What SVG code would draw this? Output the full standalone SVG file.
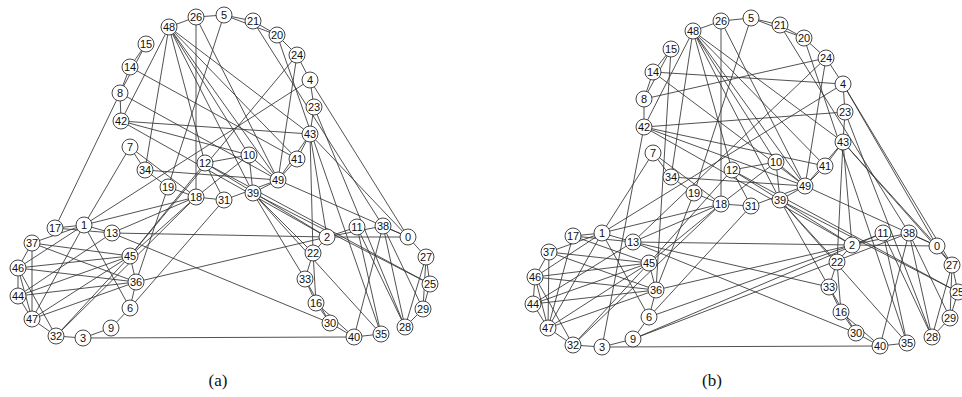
<svg xmlns="http://www.w3.org/2000/svg" width="962" height="397" viewBox="0 0 962 397">
<style>
.e line{stroke:#333;stroke-width:0.85;fill:none}
.n circle{fill:#fff;stroke:#333;stroke-width:0.9}
.n text{font-family:"Liberation Sans",Arial,sans-serif;font-size:11px;fill:#111;text-anchor:middle}
.cap{font-family:"Liberation Serif","Times New Roman",serif;font-size:17px;fill:#111;text-anchor:middle}
</style>
<rect width="962" height="397" fill="#fff"/>
<g id="edges-a" class="e">
<line x1="169" y1="27" x2="196" y2="17"/><line x1="196" y1="17" x2="224" y2="15"/><line x1="224" y1="15" x2="253" y2="21"/><line x1="253" y1="21" x2="277" y2="35"/><line x1="224" y1="15" x2="277" y2="35"/><line x1="277" y1="35" x2="297" y2="55"/><line x1="297" y1="55" x2="310" y2="80"/><line x1="310" y1="80" x2="314" y2="107"/><line x1="314" y1="107" x2="310" y2="134"/><line x1="310" y1="134" x2="297" y2="159"/><line x1="297" y1="159" x2="278" y2="180"/><line x1="310" y1="134" x2="278" y2="180"/><line x1="278" y1="180" x2="253" y2="193"/><line x1="224" y1="200" x2="278" y2="180"/><line x1="224" y1="200" x2="196" y2="197"/><line x1="196" y1="197" x2="168" y2="187"/><line x1="168" y1="187" x2="145" y2="170"/><line x1="145" y1="170" x2="130" y2="147"/><line x1="130" y1="147" x2="196" y2="197"/><line x1="121" y1="121" x2="120" y2="93"/><line x1="120" y1="93" x2="130" y2="67"/><line x1="130" y1="67" x2="146" y2="44"/><line x1="146" y1="44" x2="120" y2="93"/>
<line x1="205" y1="163" x2="249" y2="155"/><line x1="249" y1="155" x2="253" y2="193"/><line x1="249" y1="155" x2="278" y2="180"/><line x1="205" y1="163" x2="327" y2="237"/><line x1="205" y1="163" x2="430" y2="284"/><line x1="205" y1="163" x2="224" y2="200"/><line x1="249" y1="155" x2="196" y2="197"/>
<line x1="169" y1="27" x2="121" y2="121"/><line x1="169" y1="27" x2="145" y2="170"/><line x1="169" y1="27" x2="205" y2="163"/><line x1="169" y1="27" x2="253" y2="193"/><line x1="169" y1="27" x2="249" y2="155"/><line x1="169" y1="27" x2="278" y2="180"/><line x1="169" y1="27" x2="297" y2="159"/><line x1="169" y1="27" x2="310" y2="134"/>
<line x1="196" y1="17" x2="196" y2="197"/><line x1="196" y1="17" x2="278" y2="180"/><line x1="224" y1="15" x2="168" y2="187"/><line x1="120" y1="93" x2="55" y2="228"/><line x1="120" y1="93" x2="278" y2="180"/><line x1="130" y1="67" x2="297" y2="159"/><line x1="121" y1="121" x2="310" y2="134"/><line x1="121" y1="121" x2="327" y2="237"/><line x1="121" y1="121" x2="249" y2="155"/><line x1="130" y1="147" x2="84" y2="225"/>
<line x1="253" y1="21" x2="383" y2="226"/><line x1="277" y1="35" x2="381" y2="334"/><line x1="297" y1="55" x2="278" y2="180"/><line x1="297" y1="55" x2="130" y2="256"/><line x1="310" y1="80" x2="84" y2="225"/><line x1="310" y1="80" x2="408" y2="237"/><line x1="314" y1="107" x2="405" y2="327"/><line x1="310" y1="134" x2="313" y2="253"/><line x1="310" y1="134" x2="327" y2="237"/><line x1="310" y1="134" x2="408" y2="237"/><line x1="278" y1="180" x2="408" y2="237"/>
<line x1="253" y1="193" x2="430" y2="284"/><line x1="253" y1="193" x2="305" y2="279"/><line x1="253" y1="193" x2="313" y2="253"/><line x1="253" y1="193" x2="381" y2="334"/><line x1="145" y1="170" x2="278" y2="180"/><line x1="136" y1="282" x2="168" y2="187"/><line x1="130" y1="256" x2="205" y2="163"/><line x1="130" y1="256" x2="196" y2="197"/><line x1="84" y1="225" x2="196" y2="197"/><line x1="112" y1="233" x2="196" y2="197"/>
<line x1="55" y1="228" x2="84" y2="225"/><line x1="55" y1="228" x2="112" y2="233"/><line x1="84" y1="225" x2="112" y2="233"/><line x1="32" y1="243" x2="130" y2="256"/><line x1="32" y1="243" x2="136" y2="282"/><line x1="32" y1="243" x2="84" y2="225"/><line x1="18" y1="268" x2="130" y2="256"/><line x1="18" y1="268" x2="136" y2="282"/><line x1="18" y1="268" x2="84" y2="225"/><line x1="18" y1="296" x2="130" y2="256"/><line x1="18" y1="296" x2="136" y2="282"/><line x1="18" y1="296" x2="112" y2="233"/><line x1="32" y1="319" x2="130" y2="256"/><line x1="32" y1="319" x2="136" y2="282"/><line x1="32" y1="319" x2="84" y2="225"/><line x1="56" y1="336" x2="130" y2="256"/><line x1="56" y1="336" x2="196" y2="197"/>
<line x1="32" y1="243" x2="32" y2="319"/><line x1="32" y1="243" x2="18" y2="268"/><line x1="18" y1="268" x2="18" y2="296"/><line x1="18" y1="268" x2="32" y2="319"/><line x1="18" y1="296" x2="32" y2="319"/><line x1="32" y1="319" x2="56" y2="336"/><line x1="18" y1="268" x2="56" y2="336"/><line x1="56" y1="336" x2="83" y2="338"/><line x1="83" y1="338" x2="111" y2="328"/><line x1="111" y1="328" x2="130" y2="308"/><line x1="130" y1="308" x2="136" y2="282"/><line x1="136" y1="282" x2="130" y2="256"/><line x1="130" y1="308" x2="84" y2="225"/><line x1="130" y1="308" x2="224" y2="200"/>
<line x1="112" y1="233" x2="327" y2="237"/><line x1="112" y1="233" x2="330" y2="323"/><line x1="136" y1="282" x2="327" y2="237"/><line x1="83" y1="338" x2="354" y2="337"/>
<line x1="327" y1="237" x2="357" y2="227"/><line x1="327" y1="237" x2="383" y2="226"/><line x1="327" y1="237" x2="408" y2="237"/><line x1="357" y1="227" x2="405" y2="327"/><line x1="357" y1="227" x2="381" y2="334"/><line x1="383" y1="226" x2="354" y2="337"/><line x1="383" y1="226" x2="405" y2="327"/><line x1="383" y1="226" x2="423" y2="309"/><line x1="383" y1="226" x2="408" y2="237"/><line x1="408" y1="237" x2="426" y2="257"/><line x1="426" y1="257" x2="430" y2="284"/><line x1="430" y1="284" x2="423" y2="309"/><line x1="426" y1="257" x2="423" y2="309"/><line x1="405" y1="327" x2="423" y2="309"/><line x1="405" y1="327" x2="426" y2="257"/>
<line x1="313" y1="253" x2="305" y2="279"/><line x1="313" y1="253" x2="316" y2="303"/><line x1="305" y1="279" x2="316" y2="303"/><line x1="305" y1="279" x2="330" y2="323"/><line x1="316" y1="303" x2="330" y2="323"/><line x1="316" y1="303" x2="354" y2="337"/><line x1="330" y1="323" x2="354" y2="337"/><line x1="354" y1="337" x2="381" y2="334"/><line x1="327" y1="237" x2="313" y2="253"/>
</g>
<g id="edges-b" class="e">
<line x1="693" y1="31" x2="721" y2="21"/><line x1="721" y1="21" x2="751" y2="18"/><line x1="751" y1="18" x2="780" y2="25"/><line x1="780" y1="25" x2="804" y2="38"/><line x1="751" y1="18" x2="804" y2="38"/><line x1="804" y1="38" x2="826" y2="58"/><line x1="826" y1="58" x2="843" y2="84"/><line x1="843" y1="84" x2="845" y2="112"/><line x1="845" y1="112" x2="843" y2="142"/><line x1="843" y1="142" x2="825" y2="166"/><line x1="825" y1="166" x2="805" y2="186"/><line x1="843" y1="142" x2="805" y2="186"/><line x1="805" y1="186" x2="780" y2="200"/><line x1="751" y1="206" x2="805" y2="186"/><line x1="751" y1="206" x2="721" y2="204"/><line x1="721" y1="204" x2="694" y2="193"/><line x1="694" y1="193" x2="671" y2="177"/><line x1="671" y1="177" x2="653" y2="153"/><line x1="653" y1="153" x2="721" y2="204"/><line x1="644" y1="127" x2="644" y2="99"/><line x1="644" y1="99" x2="653" y2="72"/><line x1="653" y1="72" x2="671" y2="49"/><line x1="671" y1="49" x2="644" y2="99"/>
<line x1="732" y1="170" x2="776" y2="162"/><line x1="776" y1="162" x2="780" y2="200"/><line x1="776" y1="162" x2="805" y2="186"/><line x1="732" y1="170" x2="852" y2="245"/><line x1="732" y1="170" x2="958" y2="292"/><line x1="732" y1="170" x2="751" y2="206"/><line x1="776" y1="162" x2="721" y2="204"/>
<line x1="693" y1="31" x2="644" y2="127"/><line x1="693" y1="31" x2="671" y2="177"/><line x1="693" y1="31" x2="732" y2="170"/><line x1="693" y1="31" x2="780" y2="200"/><line x1="693" y1="31" x2="776" y2="162"/><line x1="693" y1="31" x2="805" y2="186"/><line x1="693" y1="31" x2="825" y2="166"/><line x1="693" y1="31" x2="843" y2="142"/>
<line x1="721" y1="21" x2="721" y2="204"/><line x1="721" y1="21" x2="805" y2="186"/><line x1="751" y1="18" x2="694" y2="193"/><line x1="644" y1="99" x2="826" y2="58"/><line x1="653" y1="72" x2="805" y2="186"/><line x1="653" y1="72" x2="843" y2="84"/><line x1="644" y1="127" x2="845" y2="112"/><line x1="644" y1="127" x2="852" y2="245"/><line x1="644" y1="127" x2="825" y2="166"/><line x1="644" y1="127" x2="805" y2="186"/><line x1="602" y1="347" x2="644" y2="127"/><line x1="671" y1="49" x2="656" y2="290"/><line x1="653" y1="153" x2="602" y2="233"/>
<line x1="780" y1="25" x2="909" y2="233"/><line x1="804" y1="38" x2="907" y2="343"/><line x1="826" y1="58" x2="805" y2="186"/><line x1="826" y1="58" x2="633" y2="242"/><line x1="843" y1="84" x2="602" y2="233"/><line x1="843" y1="84" x2="937" y2="246"/><line x1="843" y1="84" x2="952" y2="265"/><line x1="845" y1="112" x2="932" y2="337"/><line x1="843" y1="142" x2="837" y2="262"/><line x1="843" y1="142" x2="852" y2="245"/><line x1="843" y1="142" x2="937" y2="246"/><line x1="843" y1="142" x2="952" y2="265"/><line x1="805" y1="186" x2="937" y2="246"/>
<line x1="780" y1="200" x2="958" y2="292"/><line x1="780" y1="200" x2="829" y2="287"/><line x1="780" y1="200" x2="837" y2="262"/><line x1="780" y1="200" x2="907" y2="343"/><line x1="671" y1="177" x2="805" y2="186"/><line x1="656" y1="290" x2="694" y2="193"/><line x1="649" y1="263" x2="732" y2="170"/><line x1="649" y1="263" x2="721" y2="204"/><line x1="602" y1="233" x2="721" y2="204"/><line x1="633" y1="242" x2="721" y2="204"/>
<line x1="573" y1="236" x2="602" y2="233"/><line x1="573" y1="236" x2="633" y2="242"/><line x1="573" y1="236" x2="548" y2="328"/><line x1="573" y1="236" x2="649" y2="263"/><line x1="602" y1="233" x2="633" y2="242"/><line x1="549" y1="252" x2="649" y2="263"/><line x1="549" y1="252" x2="656" y2="290"/><line x1="549" y1="252" x2="602" y2="233"/><line x1="535" y1="277" x2="649" y2="263"/><line x1="535" y1="277" x2="656" y2="290"/><line x1="535" y1="277" x2="602" y2="233"/><line x1="533" y1="304" x2="649" y2="263"/><line x1="533" y1="304" x2="656" y2="290"/><line x1="533" y1="304" x2="633" y2="242"/><line x1="548" y1="328" x2="649" y2="263"/><line x1="548" y1="328" x2="656" y2="290"/><line x1="548" y1="328" x2="602" y2="233"/><line x1="573" y1="345" x2="649" y2="263"/><line x1="573" y1="345" x2="721" y2="204"/>
<line x1="549" y1="252" x2="548" y2="328"/><line x1="549" y1="252" x2="535" y2="277"/><line x1="535" y1="277" x2="533" y2="304"/><line x1="535" y1="277" x2="548" y2="328"/><line x1="533" y1="304" x2="548" y2="328"/><line x1="548" y1="328" x2="573" y2="345"/><line x1="535" y1="277" x2="573" y2="345"/><line x1="573" y1="345" x2="602" y2="347"/><line x1="602" y1="347" x2="633" y2="339"/><line x1="633" y1="339" x2="649" y2="317"/><line x1="649" y1="317" x2="656" y2="290"/><line x1="656" y1="290" x2="649" y2="263"/><line x1="649" y1="317" x2="602" y2="233"/><line x1="649" y1="317" x2="751" y2="206"/>
<line x1="649" y1="317" x2="852" y2="245"/><line x1="633" y1="339" x2="883" y2="233"/><line x1="633" y1="339" x2="909" y2="233"/>
<line x1="633" y1="242" x2="852" y2="245"/><line x1="633" y1="242" x2="856" y2="333"/><line x1="633" y1="242" x2="829" y2="287"/><line x1="656" y1="290" x2="852" y2="245"/><line x1="602" y1="347" x2="880" y2="346"/>
<line x1="852" y1="245" x2="883" y2="233"/><line x1="852" y1="245" x2="909" y2="233"/><line x1="852" y1="245" x2="937" y2="246"/><line x1="883" y1="233" x2="932" y2="337"/><line x1="883" y1="233" x2="907" y2="343"/><line x1="909" y1="233" x2="880" y2="346"/><line x1="909" y1="233" x2="932" y2="337"/><line x1="909" y1="233" x2="950" y2="318"/><line x1="909" y1="233" x2="937" y2="246"/><line x1="937" y1="246" x2="952" y2="265"/><line x1="952" y1="265" x2="958" y2="292"/><line x1="958" y1="292" x2="950" y2="318"/><line x1="952" y1="265" x2="950" y2="318"/><line x1="932" y1="337" x2="950" y2="318"/><line x1="932" y1="337" x2="952" y2="265"/>
<line x1="837" y1="262" x2="829" y2="287"/><line x1="837" y1="262" x2="841" y2="312"/><line x1="829" y1="287" x2="841" y2="312"/><line x1="829" y1="287" x2="856" y2="333"/><line x1="841" y1="312" x2="856" y2="333"/><line x1="841" y1="312" x2="880" y2="346"/><line x1="856" y1="333" x2="880" y2="346"/><line x1="880" y1="346" x2="907" y2="343"/><line x1="852" y1="245" x2="837" y2="262"/>
</g>
<g id="nodes-a" class="n">
<g id="a0"><circle cx="408" cy="237" r="8"/><text x="408" y="241">0</text></g>
<g id="a1"><circle cx="84" cy="225" r="8"/><text x="84" y="229">1</text></g>
<g id="a2"><circle cx="327" cy="237" r="8"/><text x="327" y="241">2</text></g>
<g id="a3"><circle cx="83" cy="338" r="8"/><text x="83" y="342">3</text></g>
<g id="a4"><circle cx="310" cy="80" r="8"/><text x="310" y="84">4</text></g>
<g id="a5"><circle cx="224" cy="15" r="8"/><text x="224" y="19">5</text></g>
<g id="a6"><circle cx="130" cy="308" r="8"/><text x="130" y="312">6</text></g>
<g id="a7"><circle cx="130" cy="147" r="8"/><text x="130" y="151">7</text></g>
<g id="a8"><circle cx="120" cy="93" r="8"/><text x="120" y="97">8</text></g>
<g id="a9"><circle cx="111" cy="328" r="8"/><text x="111" y="332">9</text></g>
<g id="a10"><circle cx="249" cy="155" r="8"/><text x="249" y="159">10</text></g>
<g id="a11"><circle cx="357" cy="227" r="8"/><text x="357" y="231">11</text></g>
<g id="a12"><circle cx="205" cy="163" r="8"/><text x="205" y="167">12</text></g>
<g id="a13"><circle cx="112" cy="233" r="8"/><text x="112" y="237">13</text></g>
<g id="a14"><circle cx="130" cy="67" r="8"/><text x="130" y="71">14</text></g>
<g id="a15"><circle cx="146" cy="44" r="8"/><text x="146" y="48">15</text></g>
<g id="a16"><circle cx="316" cy="303" r="8"/><text x="316" y="307">16</text></g>
<g id="a17"><circle cx="55" cy="228" r="8"/><text x="55" y="232">17</text></g>
<g id="a18"><circle cx="196" cy="197" r="8"/><text x="196" y="201">18</text></g>
<g id="a19"><circle cx="168" cy="187" r="8"/><text x="168" y="191">19</text></g>
<g id="a20"><circle cx="277" cy="35" r="8"/><text x="277" y="39">20</text></g>
<g id="a21"><circle cx="253" cy="21" r="8"/><text x="253" y="25">21</text></g>
<g id="a22"><circle cx="313" cy="253" r="8"/><text x="313" y="257">22</text></g>
<g id="a23"><circle cx="314" cy="107" r="8"/><text x="314" y="111">23</text></g>
<g id="a24"><circle cx="297" cy="55" r="8"/><text x="297" y="59">24</text></g>
<g id="a25"><circle cx="430" cy="284" r="8"/><text x="430" y="288">25</text></g>
<g id="a26"><circle cx="196" cy="17" r="8"/><text x="196" y="21">26</text></g>
<g id="a27"><circle cx="426" cy="257" r="8"/><text x="426" y="261">27</text></g>
<g id="a28"><circle cx="405" cy="327" r="8"/><text x="405" y="331">28</text></g>
<g id="a29"><circle cx="423" cy="309" r="8"/><text x="423" y="313">29</text></g>
<g id="a30"><circle cx="330" cy="323" r="8"/><text x="330" y="327">30</text></g>
<g id="a31"><circle cx="224" cy="200" r="8"/><text x="224" y="204">31</text></g>
<g id="a32"><circle cx="56" cy="336" r="8"/><text x="56" y="340">32</text></g>
<g id="a33"><circle cx="305" cy="279" r="8"/><text x="305" y="283">33</text></g>
<g id="a34"><circle cx="145" cy="170" r="8"/><text x="145" y="174">34</text></g>
<g id="a35"><circle cx="381" cy="334" r="8"/><text x="381" y="338">35</text></g>
<g id="a36"><circle cx="136" cy="282" r="8"/><text x="136" y="286">36</text></g>
<g id="a37"><circle cx="32" cy="243" r="8"/><text x="32" y="247">37</text></g>
<g id="a38"><circle cx="383" cy="226" r="8"/><text x="383" y="230">38</text></g>
<g id="a39"><circle cx="253" cy="193" r="8"/><text x="253" y="197">39</text></g>
<g id="a40"><circle cx="354" cy="337" r="8"/><text x="354" y="341">40</text></g>
<g id="a41"><circle cx="297" cy="159" r="8"/><text x="297" y="163">41</text></g>
<g id="a42"><circle cx="121" cy="121" r="8"/><text x="121" y="125">42</text></g>
<g id="a43"><circle cx="310" cy="134" r="8"/><text x="310" y="138">43</text></g>
<g id="a44"><circle cx="18" cy="296" r="8"/><text x="18" y="300">44</text></g>
<g id="a45"><circle cx="130" cy="256" r="8"/><text x="130" y="260">45</text></g>
<g id="a46"><circle cx="18" cy="268" r="8"/><text x="18" y="272">46</text></g>
<g id="a47"><circle cx="32" cy="319" r="8"/><text x="32" y="323">47</text></g>
<g id="a48"><circle cx="169" cy="27" r="8"/><text x="169" y="31">48</text></g>
<g id="a49"><circle cx="278" cy="180" r="8"/><text x="278" y="184">49</text></g>
</g>
<g id="nodes-b" class="n">
<g id="b0"><circle cx="937" cy="246" r="8"/><text x="937" y="250">0</text></g>
<g id="b1"><circle cx="602" cy="233" r="8"/><text x="602" y="237">1</text></g>
<g id="b2"><circle cx="852" cy="245" r="8"/><text x="852" y="249">2</text></g>
<g id="b3"><circle cx="602" cy="347" r="8"/><text x="602" y="351">3</text></g>
<g id="b4"><circle cx="843" cy="84" r="8"/><text x="843" y="88">4</text></g>
<g id="b5"><circle cx="751" cy="18" r="8"/><text x="751" y="22">5</text></g>
<g id="b6"><circle cx="649" cy="317" r="8"/><text x="649" y="321">6</text></g>
<g id="b7"><circle cx="653" cy="153" r="8"/><text x="653" y="157">7</text></g>
<g id="b8"><circle cx="644" cy="99" r="8"/><text x="644" y="103">8</text></g>
<g id="b9"><circle cx="633" cy="339" r="8"/><text x="633" y="343">9</text></g>
<g id="b10"><circle cx="776" cy="162" r="8"/><text x="776" y="166">10</text></g>
<g id="b11"><circle cx="883" cy="233" r="8"/><text x="883" y="237">11</text></g>
<g id="b12"><circle cx="732" cy="170" r="8"/><text x="732" y="174">12</text></g>
<g id="b13"><circle cx="633" cy="242" r="8"/><text x="633" y="246">13</text></g>
<g id="b14"><circle cx="653" cy="72" r="8"/><text x="653" y="76">14</text></g>
<g id="b15"><circle cx="671" cy="49" r="8"/><text x="671" y="53">15</text></g>
<g id="b16"><circle cx="841" cy="312" r="8"/><text x="841" y="316">16</text></g>
<g id="b17"><circle cx="573" cy="236" r="8"/><text x="573" y="240">17</text></g>
<g id="b18"><circle cx="721" cy="204" r="8"/><text x="721" y="208">18</text></g>
<g id="b19"><circle cx="694" cy="193" r="8"/><text x="694" y="197">19</text></g>
<g id="b20"><circle cx="804" cy="38" r="8"/><text x="804" y="42">20</text></g>
<g id="b21"><circle cx="780" cy="25" r="8"/><text x="780" y="29">21</text></g>
<g id="b22"><circle cx="837" cy="262" r="8"/><text x="837" y="266">22</text></g>
<g id="b23"><circle cx="845" cy="112" r="8"/><text x="845" y="116">23</text></g>
<g id="b24"><circle cx="826" cy="58" r="8"/><text x="826" y="62">24</text></g>
<g id="b25"><circle cx="958" cy="292" r="8"/><text x="958" y="296">25</text></g>
<g id="b26"><circle cx="721" cy="21" r="8"/><text x="721" y="25">26</text></g>
<g id="b27"><circle cx="952" cy="265" r="8"/><text x="952" y="269">27</text></g>
<g id="b28"><circle cx="932" cy="337" r="8"/><text x="932" y="341">28</text></g>
<g id="b29"><circle cx="950" cy="318" r="8"/><text x="950" y="322">29</text></g>
<g id="b30"><circle cx="856" cy="333" r="8"/><text x="856" y="337">30</text></g>
<g id="b31"><circle cx="751" cy="206" r="8"/><text x="751" y="210">31</text></g>
<g id="b32"><circle cx="573" cy="345" r="8"/><text x="573" y="349">32</text></g>
<g id="b33"><circle cx="829" cy="287" r="8"/><text x="829" y="291">33</text></g>
<g id="b34"><circle cx="671" cy="177" r="8"/><text x="671" y="181">34</text></g>
<g id="b35"><circle cx="907" cy="343" r="8"/><text x="907" y="347">35</text></g>
<g id="b36"><circle cx="656" cy="290" r="8"/><text x="656" y="294">36</text></g>
<g id="b37"><circle cx="549" cy="252" r="8"/><text x="549" y="256">37</text></g>
<g id="b38"><circle cx="909" cy="233" r="8"/><text x="909" y="237">38</text></g>
<g id="b39"><circle cx="780" cy="200" r="8"/><text x="780" y="204">39</text></g>
<g id="b40"><circle cx="880" cy="346" r="8"/><text x="880" y="350">40</text></g>
<g id="b41"><circle cx="825" cy="166" r="8"/><text x="825" y="170">41</text></g>
<g id="b42"><circle cx="644" cy="127" r="8"/><text x="644" y="131">42</text></g>
<g id="b43"><circle cx="843" cy="142" r="8"/><text x="843" y="146">43</text></g>
<g id="b44"><circle cx="533" cy="304" r="8"/><text x="533" y="308">44</text></g>
<g id="b45"><circle cx="649" cy="263" r="8"/><text x="649" y="267">45</text></g>
<g id="b46"><circle cx="535" cy="277" r="8"/><text x="535" y="281">46</text></g>
<g id="b47"><circle cx="548" cy="328" r="8"/><text x="548" y="332">47</text></g>
<g id="b48"><circle cx="693" cy="31" r="8"/><text x="693" y="35">48</text></g>
<g id="b49"><circle cx="805" cy="186" r="8"/><text x="805" y="190">49</text></g>
</g>
<text class="cap" x="218" y="386">(a)</text>
<text class="cap" x="712" y="386">(b)</text>
</svg>
